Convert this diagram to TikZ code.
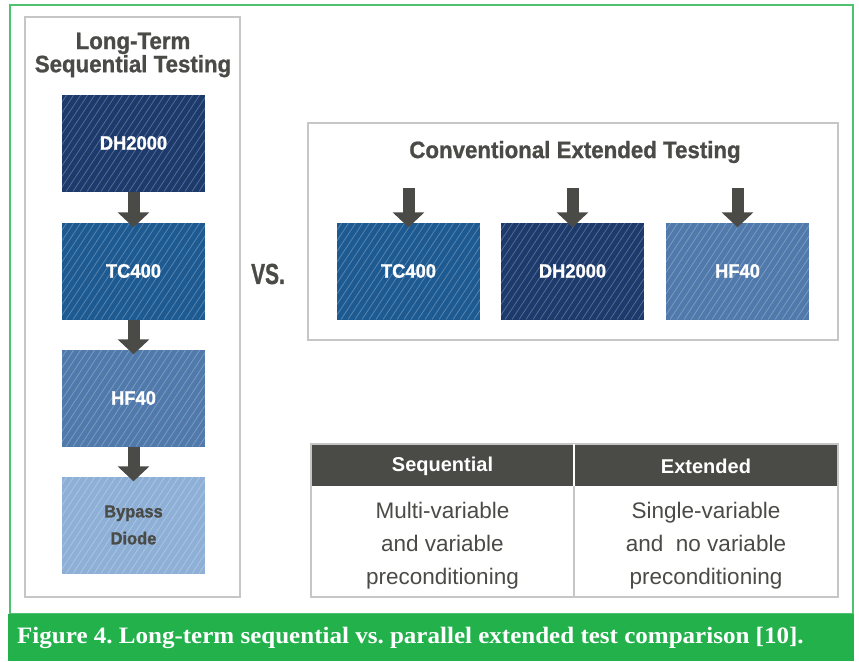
\documentclass[tikz,border=0pt]{standalone}
\usepackage{fontspec}
\usetikzlibrary{arrows.meta,calc}
\setmainfont{Liberation Serif}
\newfontfamily\capfont[FakeStretch=1.065]{Liberation Serif}
\newfontfamily\cond[FakeStretch=0.94,BoldFeatures={FakeBold=1}]{Liberation Sans}
\newfontfamily\plain{Liberation Sans}
\newfontfamily\narrow[FakeStretch=0.72,BoldFeatures={FakeBold=1}]{Liberation Sans}
\frenchspacing

\definecolor{navy}{HTML}{1C3A6C}
\definecolor{midblue}{HTML}{1E5A92}
\definecolor{steel}{HTML}{5079AC}
\definecolor{pale}{HTML}{8EB0D7}
\definecolor{ink}{HTML}{4A4A46}
\definecolor{frame}{HTML}{C6C6C6}
\definecolor{leaf}{HTML}{23B14C}

\tikzset{
  hatch/.style={path picture={
      \foreach \i in {-80,-73,...,160}
        \draw[white,opacity=.25,line width=.8pt]
          ($(path picture bounding box.south west)+(\i pt,0pt)$) -- ++(66pt,100pt);}},
  testbox/.style={hatch,minimum width=143pt,minimum height=97pt,inner sep=0pt,
      text=white,font=\cond\bfseries\fontsize{19.5}{19.5}\selectfont},
  panel/.style={draw=frame,line width=1.6pt},
  heading/.style={text=ink,font=\cond\bfseries\fontsize{23.7}{22}\selectfont,align=center},
  flow/.style={draw=ink,line width=12pt,-{Triangle[width=31pt,length=15pt]}},
  cell/.style={text=ink,font=\plain\fontsize{22.5}{33}\selectfont,align=center},
  headcell/.style={text=white,font=\plain\bfseries\fontsize{20}{20}\selectfont}
}

\begin{document}
\begin{tikzpicture}[x=1pt,y=-1pt]
  \useasboundingbox (0,0) rectangle (859,661);

  % outer green frame and caption band
  \draw[leaf!80,line width=1.2pt] (10,5) rectangle (853,614);
  \fill[leaf] (8,614) rectangle (854,661);
  \node[anchor=base west,text=white,font=\capfont\bfseries\fontsize{23.5}{23.5}\selectfont,inner sep=0pt]
    (caption) at (17,643) {Figure 4. Long-term sequential vs. parallel extended test comparison [10].};

  % left panel: long-term sequential testing
  \draw[panel] (25,17) rectangle (240,597);
  \node[heading] (lefttitle) at (133,55) {Long-Term\\Sequential Testing};
  \node[testbox,fill=navy]    (l1) at (133.5,143) {DH2000};
  \node[testbox,fill=midblue] (l2) at (133.5,271) {TC400};
  \node[testbox,fill=steel]   (l3) at (133.5,398) {HF40};
  \node[testbox,fill=pale,text=ink,align=center,
        font=\cond\bfseries\fontsize{17.5}{27}\selectfont] (l4) at (133.5,525) {Bypass\\Diode};
  \draw[flow] (l1.south) -- ([yshift=-5pt]l2.north);
  \draw[flow] (l2.south) -- ([yshift=-5pt]l3.north);
  \draw[flow] (l3.south) -- ([yshift=-5pt]l4.north);

  % versus
  \node[text=ink,font=\narrow\bfseries\fontsize{29}{29}\selectfont] (vs) at (268,274) {VS.};

  % right panel: conventional extended testing
  \draw[panel] (308,123) rectangle (838,340);
  \node[heading] (righttitle) at (575,152) {Conventional Extended Testing};
  \node[testbox,fill=midblue] (r1) at (408.5,271) {TC400};
  \node[testbox,fill=navy]    (r2) at (572.5,271) {DH2000};
  \node[testbox,fill=steel]   (r3) at (737.5,271) {HF40};
  \coordinate (s1) at (408.5,188);
  \coordinate (s2) at (572.5,188);
  \coordinate (s3) at (737.5,188);
  \draw[flow] (s1) -- ([yshift=-5pt]r1.north);
  \draw[flow] (s2) -- ([yshift=-5pt]r2.north);
  \draw[flow] (s3) -- ([yshift=-5pt]r3.north);

  % comparison table
  \fill[ink] (311,444) rectangle (838,486);
  \draw[frame,line width=1.6pt] (311,444) rectangle (838,597);
  \draw[frame,line width=1.4pt] (574,486) -- (574,597);
  \draw[white,line width=1.4pt] (574,444) -- (574,486);
  \node[headcell] (h1) at (442.5,466) {Sequential};
  \node[headcell] (h2) at (706,466) {Extended};
  \node[cell] (c1) at (442.5,546) {Multi-variable\\and variable\\preconditioning};
  \node[cell] (c2) at (706,546) {Single-variable\\and\ \ no variable\\preconditioning};
\end{tikzpicture}
\end{document}
